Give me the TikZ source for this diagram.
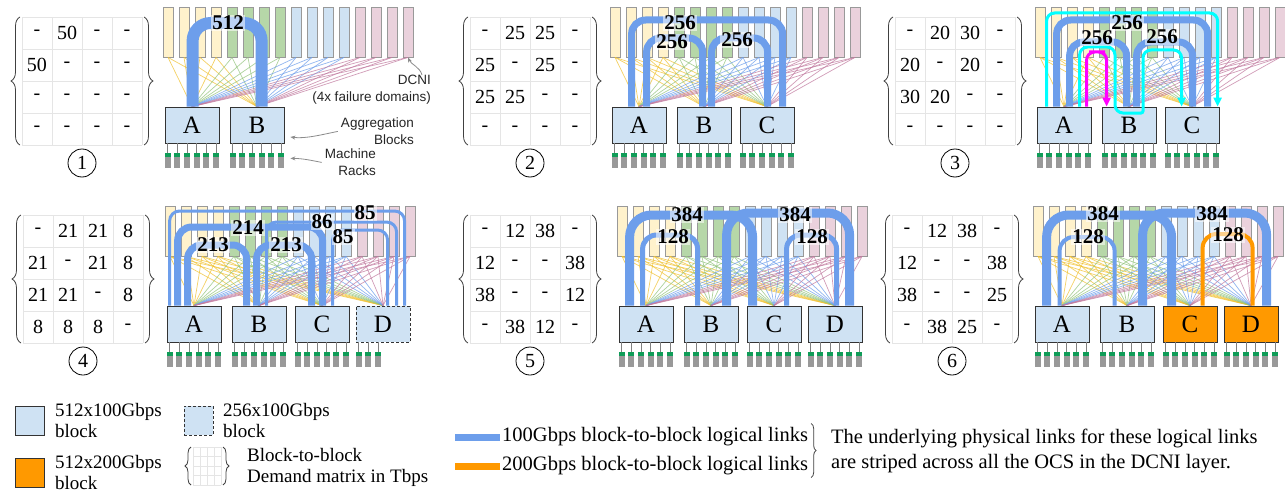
\documentclass[tikz,border=0pt]{standalone}
\usepackage{fontspec}
\setmainfont{Liberation Serif}
\setsansfont{Liberation Sans}
\usetikzlibrary{arrows.meta,decorations.pathreplacing}

\definecolor{bar0}{HTML}{FFF2CC}
\definecolor{bar1}{HTML}{B6D7A8}
\definecolor{bar2}{HTML}{CFE2F3}
\definecolor{bar3}{HTML}{EAD1DC}
\definecolor{fan0}{HTML}{F1C232}
\definecolor{fan1}{HTML}{93C47D}
\definecolor{fan2}{HTML}{6D9EEB}
\definecolor{fan3}{HTML}{C27BA0}
\definecolor{blkblue}{HTML}{CFE2F3}
\definecolor{blkorange}{HTML}{FF9900}
\definecolor{lnkblue}{HTML}{6D9EEB}
\definecolor{lnkorange}{HTML}{FF9900}
\definecolor{lnkcyan}{HTML}{00FFFF}
\definecolor{lnkmagenta}{HTML}{FF00FF}
\definecolor{rackgreen}{HTML}{0F9D58}
\definecolor{rackgray}{HTML}{999999}

\newcommand{\matfont}{\fontsize{20}{22}\selectfont}
\newcommand{\blkfont}{\fontsize{25}{28}\selectfont}
\newcommand{\lblfont}{\fontsize{21}{23}\selectfont\bfseries}
\newcommand{\numfont}{\fontsize{20}{22}\selectfont}
\newcommand{\notefont}{\fontsize{13.5}{16.5}\selectfont\sffamily}
\newcommand{\legfont}{\fontsize{19}{21}\selectfont}
\newcommand{\legfontb}{\fontsize{20.5}{25}\selectfont}

\tikzset{
  dbar/.style={draw=black!40, line width=0.8pt, minimum width=10pt, minimum height=50pt, inner sep=0pt},
  fan/.style={line width=0.7pt, draw opacity=0.75},
  blk/.style={draw=black!80, fill=blkblue, line width=0.8pt, minimum width=54pt, minimum height=36pt, inner sep=0pt, font=\blkfont},
  stem/.style={draw=black!50, line width=0.6pt},
  rackcap/.style={fill=rackgreen},
  rackbody/.style={fill=rackgray},
  link/.style={draw=lnkblue, rounded corners=14pt},
  thinlink/.style={line width=3pt, rounded corners=8pt, -{Triangle[length=9pt,width=8pt]}},
  lbl/.style={font=\lblfont, fill=white, fill opacity=0.55, text opacity=1, inner sep=1pt},
  cellgrid/.style={draw=black!10, line width=0.8pt},
  dmcell/.style={font=\matfont, inner sep=0pt},
  mbrace/.style={decorate, decoration={brace, amplitude=9pt}, draw=black!75, line width=0.8pt},
  numc/.style={circle, draw, line width=0.8pt, minimum size=28pt, inner sep=0pt, font=\numfont},
  notetxt/.style={font=\notefont, align=right, inner sep=0pt, text=black!85},
  notearrow/.style={draw=black!45, line width=0.8pt, -{Stealth[length=5pt,width=4pt]}},
  legtxt/.style={font=\legfont, align=left, inner sep=0pt, anchor=west},
  legtxtb/.style={font=\legfontb, align=left, inner sep=0pt, anchor=west}
}

\newcommand{\dcnibars}[1]{%
  \foreach \i in {0,...,15} {
    \pgfmathtruncatemacro\grp{\i/4}
    \node[dbar, fill=bar\grp] (#1d\i) at (16*\i+5,-25) {};
  }}
\newcommand{\fans}[2]{%
  \foreach \i in {0,...,15} {
    \pgfmathtruncatemacro\grp{\i/4}
    \foreach \b in {#2}
      \draw[fan, draw=fan\grp] (#1d\i.south) -- (#1\b.north);
  }}
\newcommand{\racks}[2]{%
  \foreach \k in {1,...,#2} {
    \pgfmathsetmacro\rx{3+9.7*(\k-1)}
    \draw[stem] ([xshift=\rx pt]#1.south west) -- ++(0,-10);
    \fill[rackcap] ([xshift=\rx pt]#1.south west) ++(-3,-10) rectangle ++(6,-4);
    \fill[rackbody] ([xshift=\rx pt]#1.south west) ++(-3,-14) rectangle ++(6,-11);
  }}
\newcommand{\demand}[5]{%
  \begin{scope}[shift={(#2,#3)}]
    \draw[cellgrid] (0,0) grid[xstep=30, ystep=32] (120,-128);
    \foreach \v [count=\k from 0] in {#5}
      \node[dmcell] (#1c\k) at ({15+30*mod(\k,4)},{-16-32*int(\k/4)}) {\v};
    \draw[mbrace] (-2,-128) -- (-2,0);
    \draw[mbrace] (122,0) -- (122,-128);
    \node[numc] (#1n) at (60,-146) {#4};
  \end{scope}}

\begin{document}
\begin{tikzpicture}[x=1pt, y=1pt]
  \useasboundingbox (0,0) rectangle (1285,-495);
  \fill[white] (0,0) rectangle (1285,-495);

  \demand{m1}{22}{-17}{1}{-,50,-,-,50,-,-,-,-,-,-,-,-,-,-,-}
  \demand{m2}{470}{-17}{2}{-,25,25,-,25,-,25,-,25,25,-,-,-,-,-,-}
  \demand{m3}{895}{-17}{3}{-,20,30,-,20,-,20,-,30,20,-,-,-,-,-,-}
  \demand{m4}{23}{-215}{4}{-,21,21,8,21,-,21,8,21,21,-,8,8,8,8,-}
  \demand{m5}{470}{-215}{5}{-,12,38,-,12,-,-,38,38,-,-,12,-,38,12,-}
  \demand{m6}{892}{-215}{6}{-,12,38,-,12,-,-,38,38,-,-,25,-,38,25,-}

  \begin{scope}[shift={(163,-7)}]
    \dcnibars{p1}
    \node[blk] (p1A) at (29,-118) {A};
    \node[blk] (p1B) at (94,-118) {B};
    \fans{p1}{A,B}
    \racks{p1A}{6}
    \racks{p1B}{6}
    \draw[link, line width=12pt, rounded corners=18pt] ([xshift=28pt]p1A.north west) |- (65,-16) -| ([xshift=32pt]p1B.north west);
    \node[lbl] (p1l) at (65,-16) {512};
  \end{scope}
  \node[notetxt, anchor=north east] (dcni) at (431,-75) {DCNI\\(4x failure domains)};
  \draw[notearrow] ([xshift=-9pt]dcni.north east) .. controls +(-2,8) and +(3,-7) .. (p1d15.south);
  \node[notetxt, anchor=north east] (agg) at (414,-118) {Aggregation\\Blocks};
  \draw[notearrow] ([xshift=-3pt]agg.west) .. controls +(-15,-3) and +(15,-2) .. ([xshift=6pt, yshift=-12pt]p1B.east);
  \node[notetxt, anchor=north east] (mrk) at (376,-149) {Machine\\Racks};
  \draw[notearrow] ([xshift=-3pt]mrk.west) .. controls +(-10,2) and +(12,0) .. ([xshift=6pt, yshift=-15pt]p1B.south east);

  \begin{scope}[shift={(610,-7)}]
    \dcnibars{p2}
    \node[blk] (p2A) at (29,-118) {A};
    \node[blk] (p2B) at (94,-118) {B};
    \node[blk] (p2C) at (157,-118) {C};
    \fans{p2}{A,B,C}
    \racks{p2A}{6}
    \racks{p2B}{6}
    \racks{p2C}{6}
    \draw[link, line width=7pt] ([xshift=20pt]p2A.north west) |- (70,-13) -| ([xshift=43pt]p2C.north west);
    \draw[link, line width=7pt] ([xshift=35pt]p2A.north west) |- (62,-31) -| ([xshift=26pt]p2B.north west);
    \draw[link, line width=7pt] ([xshift=35pt]p2B.north west) |- (127,-31) -| ([xshift=28pt]p2C.north west);
    \node[lbl] (p2l1) at (70,-16) {256};
    \node[lbl] (p2l2) at (62,-35) {256};
    \node[lbl] (p2l3) at (127,-33) {256};
  \end{scope}

  \begin{scope}[shift={(1035,-7)}]
    \dcnibars{p3}
    \node[blk] (p3A) at (29,-118) {A};
    \node[blk] (p3B) at (94,-118) {B};
    \node[blk] (p3C) at (157,-118) {C};
    \fans{p3}{A,B,C}
    \racks{p3A}{6}
    \racks{p3B}{6}
    \racks{p3C}{6}
    \draw[link, line width=7pt] ([xshift=20pt]p3A.north west) |- (92,-13) -| ([xshift=43pt]p3C.north west);
    \draw[link, line width=7pt] ([xshift=33pt]p3A.north west) |- (62,-35) -| ([xshift=25pt]p3B.north west);
    \draw[link, line width=7pt] ([xshift=35pt]p3B.north west) |- (127,-35) -| ([xshift=28pt]p3C.north west);
    \draw[thinlink, draw=lnkcyan] ([xshift=10pt]p3A.north west) |- (97,-6) -| ([xshift=53pt]p3C.north west);
    \draw[thinlink, draw=lnkcyan] ([xshift=43pt]p3A.north west) |- (62,-40) -| (80,-106) [rounded corners=2pt] -- (108,-106) [rounded corners=8pt] |- (127,-43) -| ([xshift=17pt]p3C.north west);
    \draw[thinlink, draw=lnkmagenta] ([xshift=50pt]p3A.north west) |- (62,-45) -| ([xshift=5pt]p3B.north west);
    \node[lbl] (p3l1) at (92,-16) {256};
    \node[lbl] (p3l2) at (62,-31) {256};
    \node[lbl] (p3l3) at (127,-30) {256};
  \end{scope}

  \begin{scope}[shift={(165,-206)}]
    \dcnibars{p4}
    \node[blk] (p4A) at (29,-118) {A};
    \node[blk] (p4B) at (94,-118) {B};
    \node[blk] (p4C) at (157,-118) {C};
    \node[blk, dash pattern=on 3pt off 2pt] (p4D) at (218,-118) {D};
    \fans{p4}{A,B,C,D}
    \racks{p4A}{6}
    \racks{p4B}{6}
    \racks{p4C}{6}
    \racks{p4D}{3}
    \draw[link, line width=3pt, rounded corners=10pt] ([xshift=3pt]p4A.north west) |- (120,-5) -| ([xshift=49pt]p4D.north west);
    \draw[link, line width=3pt, rounded corners=10pt] ([xshift=35pt]p4B.north west) |- (165,-16) -| ([xshift=41pt]p4D.north west);
    \draw[link, line width=3pt, rounded corners=10pt] ([xshift=38pt]p4C.north west) |- (195,-24) -| ([xshift=32pt]p4D.north west);
    \draw[link, line width=7pt] ([xshift=11pt]p4A.north west) |- (83,-21) -| ([xshift=28pt]p4C.north west);
    \draw[link, line width=7pt] ([xshift=21pt]p4A.north west) |- (50,-39) -| ([xshift=15pt]p4B.north west);
    \draw[link, line width=7pt] ([xshift=25pt]p4B.north west) |- (120,-39) -| ([xshift=17pt]p4C.north west);
    \node[lbl] (p4l1) at (83,-22) {214};
    \node[lbl] (p4l2) at (48,-39) {213};
    \node[lbl] (p4l3) at (121,-39) {213};
    \node[lbl] (p4l4) at (157,-16) {86};
    \node[lbl] (p4l5) at (200,-7) {85};
    \node[lbl] (p4l6) at (178,-31) {85};
  \end{scope}

  \begin{scope}[shift={(617,-206)}]
    \dcnibars{p5}
    \node[blk] (p5A) at (29,-118) {A};
    \node[blk] (p5B) at (94,-118) {B};
    \node[blk] (p5C) at (157,-118) {C};
    \node[blk] (p5D) at (218,-118) {D};
    \fans{p5}{A,B,C,D}
    \racks{p5A}{6}
    \racks{p5B}{6}
    \racks{p5C}{6}
    \racks{p5D}{6}
    \draw[link, line width=9pt, rounded corners=22pt] ([xshift=11pt]p5A.north west) |- (70,-9) -| ([xshift=6pt]p5C.north west);
    \draw[link, line width=9pt, rounded corners=22pt] ([xshift=43pt]p5B.north west) |- (178,-7) -| ([xshift=42pt]p5D.north west);
    \draw[link, line width=5pt] ([xshift=24pt]p5A.north west) |- (56,-29) -| ([xshift=14pt]p5B.north west);
    \draw[link, line width=5pt] ([xshift=40pt]p5C.north west) |- (195,-29) -| ([xshift=29pt]p5D.north west);
    \node[lbl] (p5l1) at (70,-9) {384};
    \node[lbl] (p5l2) at (56,-31) {128};
    \node[lbl] (p5l3) at (178,-9) {384};
    \node[lbl] (p5l4) at (195,-31) {128};
  \end{scope}

  \begin{scope}[shift={(1033,-206)}]
    \dcnibars{p6}
    \node[blk] (p6A) at (29,-118) {A};
    \node[blk] (p6B) at (94,-118) {B};
    \node[blk, fill=blkorange] (p6C) at (157,-118) {C};
    \node[blk, fill=blkorange] (p6D) at (218,-118) {D};
    \fans{p6}{A,B,C,D}
    \racks{p6A}{6}
    \racks{p6B}{6}
    \racks{p6C}{6}
    \racks{p6D}{6}
    \draw[link, line width=9pt, rounded corners=22pt] ([xshift=12pt]p6A.north west) |- (70,-9) -| ([xshift=9pt]p6C.north west);
    \draw[link, line width=9pt, rounded corners=22pt] ([xshift=43pt]p6B.north west) |- (179,-7) -| ([xshift=43pt]p6D.north west);
    \draw[link, line width=4pt] ([xshift=25pt]p6A.north west) |- (55,-31) -| ([xshift=15pt]p6B.north west);
    \draw[link, draw=lnkorange, line width=4pt] ([xshift=40pt]p6C.north west) |- (195,-28) -| ([xshift=29pt]p6D.north west);
    \node[lbl] (p6l1) at (70,-8) {384};
    \node[lbl] (p6l2) at (55,-31) {128};
    \node[lbl] (p6l3) at (179,-8) {384};
    \node[lbl] (p6l4) at (195,-29) {128};
  \end{scope}

  \node[blk, minimum width=29pt, minimum height=29pt] (lgA) at (29.5,-420.5) {};
  \node[legtxt] (lgAt) at (55,-420) {512x100Gbps\\block};
  \node[blk, dash pattern=on 3pt off 2pt, minimum width=29pt, minimum height=29pt] (lgD) at (198.5,-420.5) {};
  \node[legtxt] (lgDt) at (223,-420) {256x100Gbps\\block};
  \node[blk, fill=blkorange, minimum width=29pt, minimum height=29pt] (lgC) at (29.5,-473) {};
  \node[legtxt] (lgCt) at (55,-472) {512x200Gbps\\block};
  \begin{scope}[shift={(193,-447)}]
    \draw[cellgrid] (0,0) grid[xstep=7, ystep=9.5] (28,-38);
    \draw[mbrace, decoration={brace, amplitude=6pt}] (-2,-38) -- (-2,0);
    \draw[mbrace, decoration={brace, amplitude=6pt}] (30,0) -- (30,-38);
  \end{scope}
  \node[legtxt] (lgMt) at (247,-467) {Block-to-block\\Demand matrix in Tbps};

  \coordinate (lg1a) at (455,-437);
  \coordinate (lg1b) at (500,-437);
  \coordinate (lg2a) at (455,-466);
  \coordinate (lg2b) at (500,-466);
  \draw[draw=lnkblue, line width=7pt] (lg1a) -- (lg1b);
  \draw[draw=lnkorange, line width=7pt] (lg2a) -- (lg2b);
  \node[legtxtb] (lg1t) at (502,-437) {100Gbps block-to-block logical links};
  \node[legtxtb] (lg2t) at (502,-466) {200Gbps block-to-block logical links};
  \draw[mbrace, decoration={brace, amplitude=5pt}] ([xshift=3pt, yshift=4pt]lg1t.north east) -- ([xshift=3pt, yshift=-2pt]lg2t.south east);
  \node[legtxtb] (lgnote) at (831,-451) {The underlying physical links for these logical links\\are striped across all the OCS in the DCNI layer.};
\end{tikzpicture}
\end{document}
